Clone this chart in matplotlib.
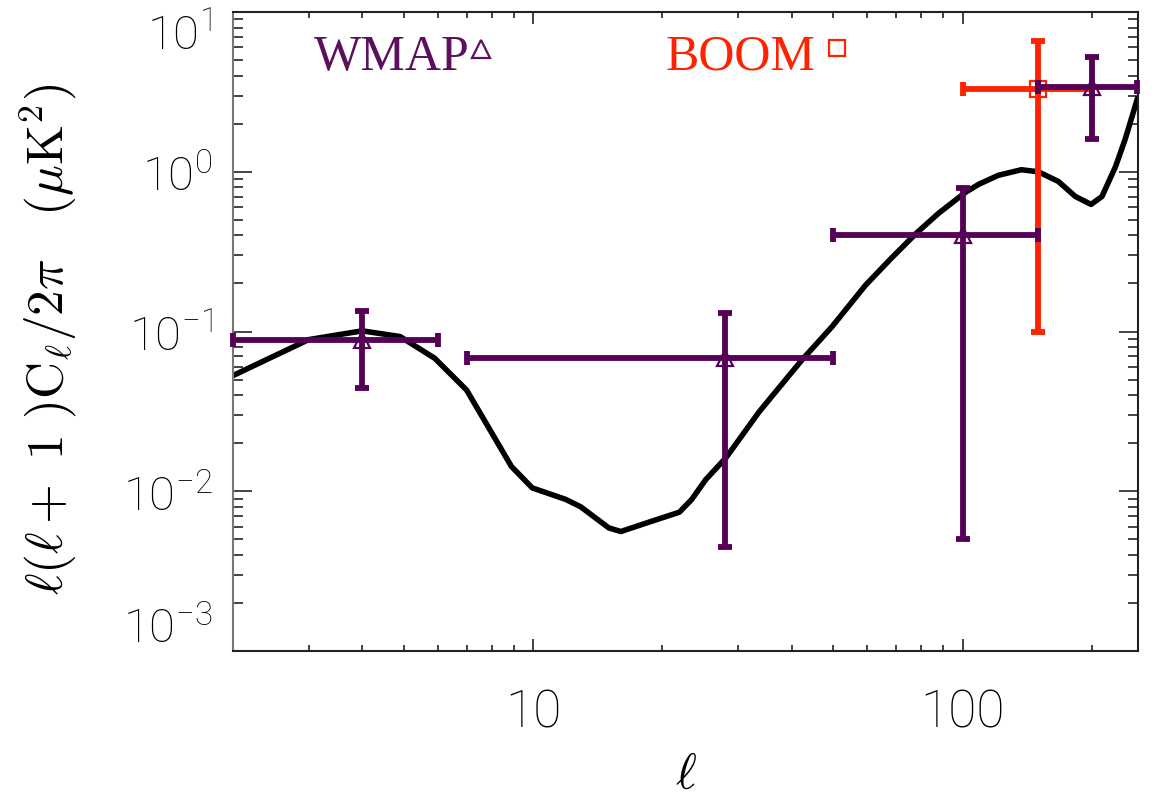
import numpy as np
import matplotlib.pyplot as plt
from matplotlib.ticker import FixedLocator, FixedFormatter, NullFormatter, LogLocator

plt.rcParams['mathtext.fontset'] = 'cm'
plt.rcParams['font.family'] = ['Roboto', 'DejaVu Sans']

###
### Data
###
# model spectrum l(l+1)C_l/2pi [muK^2]
ell_model = [2, 3, 4, 4.9, 5.9, 7.0, 8.9, 9.95, 11.9, 12.9, 15.0, 16.0, 18.9,
             21.9, 23.4, 25.2, 28.1, 33.6, 42.3, 49.6, 59.4, 68.4, 77.8, 87.9,
             101.6, 109, 121, 137, 150, 167, 183, 199, 211, 227, 239, 255]
cl_model  = [0.053, 0.089, 0.101, 0.093, 0.068, 0.043, 0.0143, 0.0105, 0.0089,
             0.0080, 0.0059, 0.0056, 0.0065, 0.0074, 0.0089, 0.0118, 0.0162,
             0.0315, 0.0667, 0.107, 0.195, 0.29, 0.41, 0.55, 0.745, 0.835,
             0.95, 1.03, 1.0, 0.87, 0.70, 0.625, 0.70, 1.08, 1.6, 2.85]

# WMAP band powers
wmap_ell = [4, 28, 100, 200]
wmap_lo  = [2, 7, 50, 150]
wmap_hi  = [6, 50, 150, 255]
wmap_cl  = [0.089, 0.068, 0.40, 3.4]
wmap_min = [0.044, 0.0045, 0.005, 1.6]
wmap_max = [0.135, 0.13, 0.79, 5.2]

# BOOMERANG band power
boom_ell = [150]
boom_lo  = [100]
boom_hi  = [200]
boom_cl  = [3.3]
boom_min = [0.1]
boom_max = [6.6]

ytick_vals   = [1e-3, 1e-2, 1e-1, 1e0, 1e1]
ytick_labels = [r'$\mathregular{10^{-3}}$', r'$\mathregular{10^{-2}}$',
                r'$\mathregular{10^{-1}}$', r'$\mathregular{10^{0}}$',
                r'$\mathregular{10^{1}}$']
xtick_vals   = [10, 100]
xtick_labels = ['10', '100']

purple = '#570057'
red    = '#ff2200'

###
### Plot
###
fig = plt.figure(figsize=(11.66, 8.04), dpi=100)
ax = fig.add_axes([0.1998, 0.189, 0.7762, 0.7948])

ax.plot(ell_model, cl_model, color='black', lw=4.0, zorder=2,
        solid_joinstyle='round')

def bands(ax, ell, lo, hi, cl, cmin, cmax, color, marker, z):
    ell = np.asarray(ell); cl = np.asarray(cl)
    xerr = [ell - np.asarray(lo), np.asarray(hi) - ell]
    yerr = [cl - np.asarray(cmin), np.asarray(cmax) - cl]
    ax.plot(ell, cl, ls='none', marker=marker, ms=11, mfc='none',
            mec=color, mew=1.6, zorder=z)
    ax.errorbar(ell, cl, xerr=xerr, yerr=yerr, fmt='none', ecolor=color,
                elinewidth=4.2, capsize=4.7, capthick=4.2, zorder=z + 0.5,
                clip_on=False)

bands(ax, boom_ell, boom_lo, boom_hi, boom_cl, boom_min, boom_max, red, 's', 3)
bands(ax, wmap_ell, wmap_lo, wmap_hi, wmap_cl, wmap_min, wmap_max, purple, '^', 4)

ax.set_xscale('log')
ax.set_yscale('log')
ax.set_xlim(2, 256)
ax.set_ylim(1e-3, 1e1)

ax.xaxis.set_major_locator(FixedLocator(xtick_vals))
ax.xaxis.set_major_formatter(FixedFormatter(xtick_labels))
ax.xaxis.set_minor_locator(LogLocator(base=10, subs=np.arange(2, 10)))
ax.xaxis.set_minor_formatter(NullFormatter())
ax.yaxis.set_major_locator(FixedLocator(ytick_vals))
ax.yaxis.set_major_formatter(FixedFormatter(ytick_labels))
ax.yaxis.set_minor_locator(LogLocator(base=10, subs=np.arange(2, 10)))
ax.yaxis.set_minor_formatter(NullFormatter())

ax.tick_params(which='both', direction='in', top=True, right=True,
               color='#222222', width=1.2)
ax.tick_params(axis='x', which='major', length=8.6, pad=26, labelsize=37)
ax.tick_params(axis='x', which='minor', length=4.3)
ax.tick_params(axis='y', which='major', length=13.7, pad=15, labelsize=34)
ax.tick_params(axis='y', which='minor', length=7)
for lab in ax.get_xticklabels() + ax.get_yticklabels():
    lab.set_fontweight('light')
ylabs = ax.get_yticklabels()
ylabs[0].set_va('bottom')
ylabs[-1].set_va('top')

for s in ax.spines.values():
    s.set_linewidth(1.5)
    s.set_color('#222222')
ax.spines['left'].set_color('#777777')

ax.set_xlabel(r'$\ell$', fontsize=36)
ax.xaxis.set_label_coords(0.5, -0.155)
ax.set_ylabel(r'$\ell(\ell+\ 1\ )\mathrm{C}_{\ell}/2\pi\ \ \ (\mu\mathrm{K}^{2})$',
              fontsize=37)
ax.yaxis.set_label_coords(-0.171, 0.49)

# legend labels
ax.text(0.0895, 0.911, 'WMAP', transform=ax.transAxes, ha='left',
        va='baseline', fontsize=36, color='#5c0f5c', family='Liberation Serif')
ax.plot([0.274], [0.942], transform=ax.transAxes, marker='^', ms=13,
        mfc='none', mec='#5c0f5c', mew=1.6, clip_on=False)
ax.text(0.478, 0.911, 'BOOM', transform=ax.transAxes, ha='left',
        va='baseline', fontsize=36, color=red, family='Liberation Serif')
ax.plot([0.667], [0.944], transform=ax.transAxes, marker='s', ms=12,
        mfc='none', mec=red, mew=1.6, clip_on=False)

fig.savefig('out.png', dpi=100)
